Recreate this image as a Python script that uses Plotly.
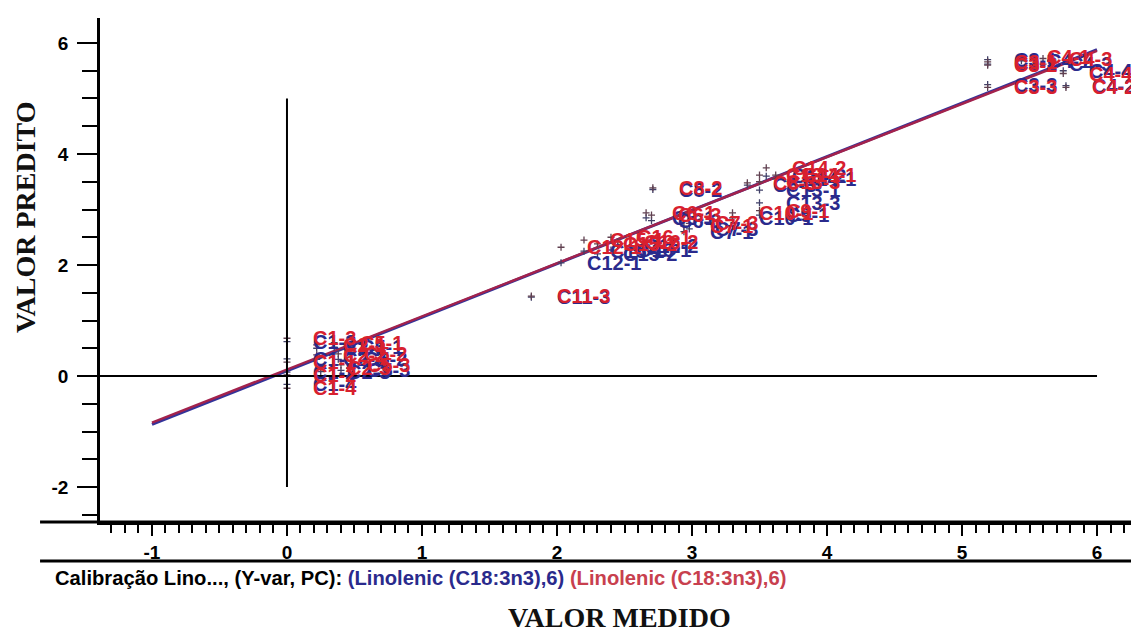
import plotly.graph_objects as go

# ---------------- data ----------------
sample_labels = ["C1-1", "C1-2", "C1-3", "C1-4", "C2-1", "C2-2", "C2-3", "C5-1", "C5-2", "C5-3",
                 "C11-3", "C12-1", "C15-1", "C15-2", "C16-1", "C16-2", "C6-1", "C6-3", "C8-2",
                 "C7-1", "C7-3", "C10-1", "C8-3", "C9-1", "C13-1", "C13-3", "C14-2", "C14-1",
                 "C3-1", "C3-2", "C3-3", "C4-1", "C4-3", "C4-2", "C4-4"]
measured = [0.0, 0.0, 0.0, 0.0, 0.22, 0.22, 0.25, 0.35, 0.38, 0.40,
            1.81, 2.03, 2.20, 2.30, 2.40, 2.45, 2.66, 2.70, 2.71,
            2.94, 2.98, 3.30, 3.41, 3.50, 3.50, 3.50, 3.55, 3.62,
            5.19, 5.19, 5.19, 5.44, 5.60, 5.77, 5.75]
predicted_cal = [0.31, 0.07, 0.62, -0.15, 0.50, 0.30, 0.08, 0.52, 0.30, 0.10,
                 1.42, 2.04, 2.25, 2.20, 2.27, 2.35, 2.85, 2.80, 3.36,
                 2.60, 2.65, 2.85, 3.44, 2.90, 3.35, 3.12, 3.60, 3.55,
                 5.70, 5.62, 5.25, 5.68, 5.62, 5.23, 5.50]
predicted_val = [0.25, 0.02, 0.68, -0.22, 0.56, 0.38, 0.15, 0.60, 0.40, 0.20,
                 1.44, 2.32, 2.45, 2.38, 2.50, 2.42, 2.94, 2.90, 3.39,
                 2.70, 2.75, 2.94, 3.48, 2.98, 3.62, 3.50, 3.75, 3.62,
                 5.66, 5.60, 5.20, 5.75, 5.72, 5.20, 5.45]

# regression lines (end points)
fit_x = [-1.0, 6.0]
fit_cal = [-0.87, 5.88]
fit_val = [-0.84, 5.86]

x_tick_vals = [-1, 0, 1, 2, 3, 4, 5, 6]
y_tick_vals = [-2, 0, 2, 4, 6]

legend_prefix = "Calibração Lino..., (Y-var, PC): "
legend_cal = "(Linolenic (C18:3n3),6)"
legend_val = "(Linolenic (C18:3n3),6)"

# ---------------- style ----------------
BLUE = "#2a2a8c"
RED = "#d8202e"
LEG_RED = "#c8404e"
SANS = "Arial, Liberation Sans, sans-serif"
SERIF = "Times New Roman, Liberation Serif, serif"

fig = go.Figure()

fig.add_trace(go.Scatter(x=fit_x, y=fit_cal, mode="lines",
                         line=dict(color="#33339a", width=3), hoverinfo="skip"))
fig.add_trace(go.Scatter(x=fit_x, y=fit_val, mode="lines",
                         line=dict(color="#a3224c", width=2.5), hoverinfo="skip"))

fig.add_trace(go.Scatter(x=measured, y=predicted_cal, mode="markers",
                         marker=dict(symbol="cross-thin", size=5,
                                     line=dict(color="#404068", width=1.3))))
fig.add_trace(go.Scatter(x=measured, y=predicted_val, mode="markers",
                         marker=dict(symbol="cross-thin", size=5,
                                     line=dict(color="#604050", width=1.3))))

annotations = []
for lab, xv, yv in zip(sample_labels, measured, predicted_cal):
    annotations.append(dict(x=xv, y=yv, xref="x", yref="y", text=lab, showarrow=False,
                            xanchor="left", yanchor="middle", xshift=24,
                            font=dict(family=SANS, size=20, color=BLUE, weight="bold")))
for lab, xv, yv in zip(sample_labels, measured, predicted_val):
    annotations.append(dict(x=xv, y=yv, xref="x", yref="y", text=lab, showarrow=False,
                            xanchor="left", yanchor="middle", xshift=24,
                            font=dict(family=SANS, size=20, color=RED, weight="bold")))

# legend-like caption under the axis
annotations.append(dict(
    x=-0.0452, y=-0.111, xref="paper", yref="paper", xanchor="left", yanchor="middle",
    showarrow=False,
    text=(legend_prefix
          + f"<span style='color:{BLUE}'>{legend_cal}</span> "
          + f"<span style='color:{LEG_RED}'>{legend_val}</span>"),
    font=dict(family=SANS, size=20.2, color="black", weight="bold")))

# axis titles
annotations.append(dict(x=0.5, y=-0.1885, xref="paper", yref="paper", showarrow=False,
                        text="VALOR MEDIDO", xanchor="center", yanchor="middle",
                        font=dict(family=SERIF, size=28, color="#111", weight="bold")))
annotations.append(dict(x=-0.0722, y=0.605, xref="paper", yref="paper", showarrow=False,
                        text="VALOR PREDITO", textangle=-90, xanchor="center", yanchor="middle",
                        font=dict(family=SERIF, size=28, color="#111", weight="bold")))

shapes = [
    # target lines inside the plot
    dict(type="line", xref="x", yref="y", x0=0, x1=0, y0=-2, y1=5,
         line=dict(color="black", width=2)),
    dict(type="line", xref="paper", yref="y", x0=0, x1=(6 + 1.385) / (6.311 + 1.385), y0=0, y1=0,
         line=dict(color="black", width=2)),
    # extended axis line and the line under the tick labels
    dict(type="line", xref="paper", yref="paper", x0=-0.0577, x1=1, y0=0, y1=0,
         line=dict(color="black", width=3)),
    dict(type="line", xref="paper", yref="paper", x0=-0.0577, x1=1, y0=-0.0774, y1=-0.0774,
         line=dict(color="black", width=3)),
]

# the page body adds an 8px margin, so the figure is drawn 8px smaller and shifted
fig.update_layout(
    width=1131, height=622,
    margin=dict(l=92, r=0, t=10, b=108),
    paper_bgcolor="white", plot_bgcolor="white",
    showlegend=False,
    annotations=annotations,
    shapes=shapes,
    xaxis=dict(range=[-1.385, 6.311], showgrid=False, zeroline=False,
               showline=True, linecolor="black", linewidth=3,
               tickmode="array", tickvals=x_tick_vals, ticktext=[str(v) for v in x_tick_vals],
               ticks="outside", ticklen=11, tickwidth=2, tickcolor="black",
               minor=dict(dtick=0.1, tick0=0, ticks="outside", ticklen=8,
                          tickwidth=1.5, tickcolor="black"),
               tickfont=dict(family=SANS, size=19, color="black", weight="bold"),
               ticklabelstandoff=0),
    yaxis=dict(range=[-2.63, 6.45], showgrid=False, zeroline=False,
               showline=True, linecolor="black", linewidth=2.5,
               tickmode="array", tickvals=y_tick_vals, ticktext=[str(v) for v in y_tick_vals],
               ticks="outside", ticklen=20, tickwidth=2, tickcolor="black",
               minor=dict(dtick=0.5, tick0=0, ticks="outside", ticklen=15,
                          tickwidth=2, tickcolor="black"),
               tickfont=dict(family=SANS, size=19, color="black", weight="bold"),
               ticklabelstandoff=5),
)

fig.write_html("out.html")
